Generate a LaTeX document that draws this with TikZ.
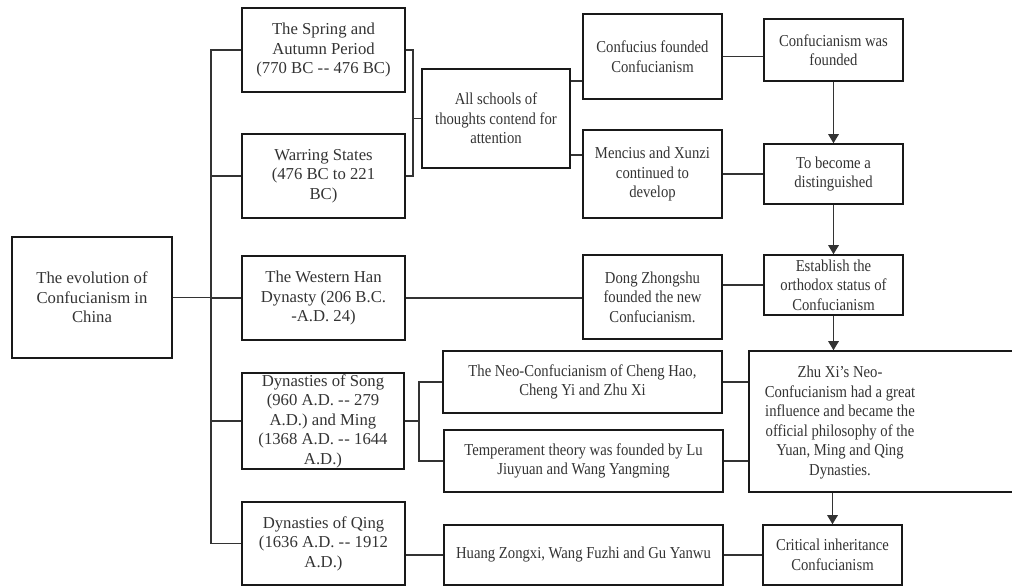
\documentclass[tikz,border=0pt]{standalone}
\usepackage{fontspec}
\setmainfont{Liberation Serif}[FakeStretch=0.88]
\newfontfamily\widefont{Liberation Serif}
\usepackage{tikz}
\usetikzlibrary{arrows.meta,calc}
\newcommand\dbl{-\kern0.4pt-}

\begin{document}
\begin{tikzpicture}[x=0.02cm, y=-0.02cm,
    box/.style={draw=black!90, line width=0.9pt, inner sep=0pt, align=center,
        text=black!80, font=\fontsize{9.5}{11.1}\selectfont},
    period/.style={box, font=\widefont\fontsize{9.5}{11.1}\selectfont},
    wh/.style 2 args={minimum width=#1*0.02cm, minimum height=#2*0.02cm},
    link/.style={draw=black!80, line width=0.75pt},
    flow/.style={link, -{Triangle[length=1.8mm, width=2.1mm]}}]
    \useasboundingbox (0,0) rectangle (1012,586);
    % root and periods
    \node[period, wh={160}{121}] (root) at (92,297.5) {The evolution of\\Confucianism in\\China};
    \node[period, wh={163}{84}] (spring) at (323.5,50) {The Spring and\\Autumn Period\\(770 BC \dbl{} 476 BC)};
    \node[period, wh={163}{84}] (warring) at (323.5,176) {Warring States\\(476 BC to 221\\BC)};
    \node[period, wh={163}{84}] (han) at (323.5,298) {The Western Han\\Dynasty (206 B.C.\\-A.D. 24)};
    \node[period, wh={162}{96}] (song) at (323,421) {Dynasties of Song\\(960 A.D. \dbl{} 279\\A.D.) and Ming\\(1368 A.D. \dbl{} 1644\\A.D.)};
    \node[period, wh={163}{83}] (qing) at (323.5,543.5) {Dynasties of Qing\\(1636 A.D. \dbl{} 1912\\A.D.)};
    % schools and thinkers
    \node[box, wh={148}{99}] (schools) at (496,118.5) {All schools of\\thoughts contend for\\attention};
    \node[box, wh={139}{85}] (confucius) at (652.5,56.5) {Confucius founded\\Confucianism};
    \node[box, wh={139}{88}] (mencius) at (652.5,174) {Mencius and Xunzi\\continued to\\develop};
    \node[box, wh={139}{84}] (dong) at (652.5,297) {Dong Zhongshu\\founded the new\\Confucianism.};
    \node[box, wh={279}{62}] (neo) at (582.5,382) {The Neo-Confucianism of Cheng Hao,\\Cheng Yi and Zhu Xi};
    \node[box, wh={279}{62}] (temper) at (583.5,461) {Temperament theory was founded by Lu\\Jiuyuan and Wang Yangming};
    \node[box, wh={279}{60}] (huang) at (583.5,555) {Huang Zongxi, Wang Fuzhi and Gu Yanwu};
    % outcomes
    \node[box, wh={139}{62}] (founded) at (833.5,50) {Confucianism was\\founded};
    \node[box, wh={139}{60}] (become) at (833.5,174) {To become a\\distinguished};
    \node[box, wh={139}{60}] (establish) at (833.5,285) {Establish the\\orthodox status of\\Confucianism};
    \node[box, wh={267}{141}] (zhuxi) at (882.5,421.5) {};
    \node[box, draw=none] (zhuxitext) at (840,422.5) {Zhu Xi’s Neo-\\Confucianism had a great\\influence and became the\\official philosophy of the\\Yuan, Ming and Qing\\Dynasties.};
    \node[box, wh={139}{60}] (critical) at (832.5,555) {Critical inheritance\\Confucianism};
    % connectors
    \coordinate (trunk) at (211,0);
    \coordinate (forkA) at (413,0);
    \coordinate (forkB) at (419,0);
    \draw[link] (root.east) -- (root.east -| han.west);
    \draw[link] (spring.west) -| (trunk |- qing.west) -- (qing.west);
    \foreach \n in {warring,han,song}
        \draw[link] (trunk |- \n.west) -- (\n.west);
    \draw[link] (spring.east) -| (forkA |- warring.east) -- (warring.east);
    \draw[link] (forkA |- schools.west) -- (schools.west);
    \draw[link] ($(schools.east)+(0,-37.5)$) coordinate (sA) -- (sA -| confucius.west);
    \draw[link] ($(schools.east)+(0,36.5)$) coordinate (sB) -- (sB -| mencius.west);
    \draw[link] (confucius.east) -- (confucius.east -| founded.west);
    \draw[link] (mencius.east) -- (become.west);
    \draw[flow] (founded) -- (become);
    \draw[flow] (become) -- (establish);
    \draw[link] (han.east) -- (han.east -| dong.west);
    \draw[link] (establish.west -| dong.east) -- (establish.west);
    \draw[flow] (establish.south) -- (establish.south |- zhuxi.north);
    \draw[link] (song.east) -- (song.east -| forkB);
    \draw[link] (neo.west) -| (forkB |- temper.west) -- (temper.west);
    \draw[link] (neo.east) -- (neo.east -| zhuxi.west);
    \draw[link] (temper.east) -- (temper.east -| zhuxi.west);
    \draw[flow] (critical.north |- zhuxi.south) -- (critical.north);
    \draw[link] (qing.east |- huang.west) -- (huang.west);
    \draw[link] (huang) -- (critical);
\end{tikzpicture}
\end{document}
